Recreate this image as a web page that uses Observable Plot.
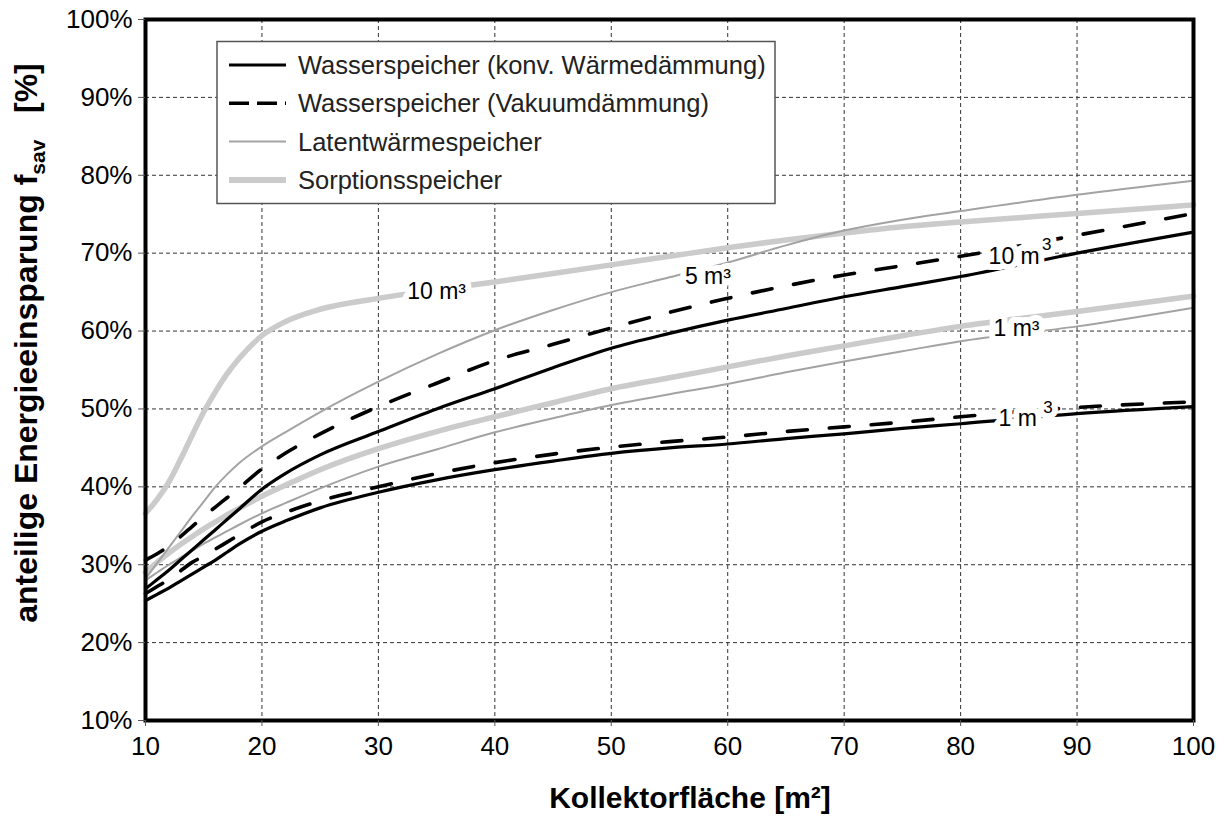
<!DOCTYPE html>
<html><head><meta charset="utf-8">
<script src="https://cdn.jsdelivr.net/npm/d3@7"></script>
<script src="https://cdn.jsdelivr.net/npm/@observablehq/plot@0.6"></script>
<style>body{margin:0;background:#fff;} svg{display:block;}</style>
</head><body><div id="chart"></div>
<script>
// Kollektorfläche [m²]
const area = [10, 11, 12, 13, 14, 15, 16, 17, 18, 20, 22, 25, 30, 35, 40, 45, 50, 55, 60, 65, 70, 75, 80, 90, 100];
// anteilige Energieeinsparung [%]
const wasserKonv10 = [26.9, 28.1, 29.3, 30.6, 31.9, 33.2, 34.5, 35.8, 37.1, 39.7, 41.7, 44.1, 47.1, 50.0, 52.6, 55.3, 57.8, 59.7, 61.4, 62.9, 64.4, 65.7, 67.0, 70.0, 72.7];
const wasserKonv1  = [25.4, 26.2, 27.0, 27.9, 28.8, 29.7, 30.6, 31.6, 32.6, 34.3, 35.6, 37.3, 39.3, 40.9, 42.2, 43.3, 44.3, 45.0, 45.5, 46.2, 46.8, 47.5, 48.1, 49.4, 50.3];
const wasserVak10  = [30.6, 31.4, 32.4, 33.6, 34.9, 36.2, 37.4, 38.6, 39.8, 42.3, 44.3, 46.8, 50.3, 53.3, 56.2, 58.3, 60.4, 62.4, 64.2, 65.8, 67.2, 68.4, 69.6, 72.3, 75.1];
const wasserVak1   = [26.3, 27.2, 28.1, 29.2, 30.3, 31.1, 32.0, 32.9, 33.8, 35.5, 36.7, 38.2, 40.0, 41.7, 43.1, 44.2, 45.1, 45.8, 46.4, 47.1, 47.7, 48.3, 49.0, 50.2, 50.9];
const latent5      = [28.2, 30.2, 32.2, 34.2, 36.2, 38.1, 40.0, 41.6, 43.0, 45.2, 47.0, 49.6, 53.5, 57.0, 60.1, 62.7, 65.0, 66.9, 68.8, 71.0, 72.9, 74.3, 75.4, 77.5, 79.3];
const latent1      = [28.0, 29.0, 30.0, 30.9, 31.8, 32.7, 33.5, 34.3, 35.1, 36.6, 37.9, 39.8, 42.6, 44.8, 47.0, 48.8, 50.5, 51.9, 53.2, 54.7, 56.1, 57.4, 58.7, 60.6, 63.0];
const sorption10   = [36.6, 38.4, 40.6, 43.5, 46.6, 49.6, 52.2, 54.5, 56.4, 59.4, 61.2, 62.8, 64.2, 65.3, 66.3, 67.4, 68.5, 69.6, 70.7, 71.7, 72.6, 73.4, 74.0, 75.1, 76.2];
const sorption1    = [29.0, 30.3, 31.5, 32.6, 33.6, 34.6, 35.5, 36.4, 37.2, 38.8, 40.2, 42.2, 44.9, 47.1, 49.0, 50.8, 52.6, 54.0, 55.4, 56.8, 58.1, 59.4, 60.6, 62.5, 64.5];

const storageTypes = ["Wasserspeicher (konv. Wärmedämmung)", "Wasserspeicher (Vakuumdämmung)", "Latentwärmespeicher", "Sorptionsspeicher"];
const yTicks = [10, 20, 30, 40, 50, 60, 70, 80, 90, 100];
const xTicks = [10, 20, 30, 40, 50, 60, 70, 80, 90, 100];

// curve labels (text, position in data units)
const labelText = ["10 m³", "5 m³", "1 m³", "10 m", "1 m"];
const labelX    = [35.0, 58.3, 84.8, 84.6, 84.9];
const labelY    = [65.0, 67.0, 60.3, 69.6, 48.8];
const supText = ["3", "3"];
const supX    = [87.4, 87.5];
const supY    = [71.1, 50.2];

const styles = [
  {stroke: "#000", strokeWidth: 3.2},
  {stroke: "#000", strokeWidth: 3.6, strokeDasharray: "20,22"},
  {stroke: "#a3a3a3", strokeWidth: 2},
  {stroke: "#cbcbcb", strokeWidth: 5.5}
];

const series = [
  {type: 3, vals: sorption10}, {type: 3, vals: sorption1},
  {type: 2, vals: latent5}, {type: 2, vals: latent1},
  {type: 1, vals: wasserVak10}, {type: 1, vals: wasserVak1},
  {type: 0, vals: wasserKonv10}, {type: 0, vals: wasserKonv1}
];

const lineMarks = series.map(s => Plot.line(area.map((a, i) => ({x: a, y: s.vals[i]})),
  {x: "x", y: "y", curve: "monotone-x", ...styles[s.type]}));

const labels = labelText.map((t, i) => ({t, x: labelX[i], y: labelY[i]}));
const sups = supText.map((t, i) => ({t, x: supX[i], y: supY[i]}));

const chart = Plot.plot({
  width: 1226, height: 816,
  marginLeft: 145, marginRight: 33, marginTop: 19, marginBottom: 96,
  style: {fontFamily: "'Liberation Sans', Arial, sans-serif", fontSize: "26px", color: "#000", background: "#fff"},
  x: {domain: [10, 100], label: null},
  y: {domain: [10, 100], label: null},
  marks: [
    Plot.gridX(xTicks.slice(1, -1), {stroke: "#333", strokeOpacity: 1, strokeDasharray: "4,3", strokeWidth: 1}),
    Plot.gridY(yTicks.slice(1, -1), {stroke: "#333", strokeOpacity: 1, strokeDasharray: "4,3", strokeWidth: 1}),
    ...lineMarks,
    Plot.text(labels, {x: "x", y: "y", text: "t", fontSize: 23, fill: "#000", stroke: "#fff", strokeWidth: 12, paintOrder: "stroke"}),
    Plot.text(sups, {x: "x", y: "y", text: "t", fontSize: 17, fill: "#000", stroke: "#fff", strokeWidth: 12, paintOrder: "stroke"}),
    Plot.frame({stroke: "#000", strokeWidth: 4}),
    Plot.axisY(yTicks, {tickFormat: d => d + "%", tickSize: 7, tickPadding: 6, fontSize: 26, stroke: "#555", label: null}),
    Plot.axisX(xTicks, {tickSize: 6, tickPadding: 10, fontSize: 26, stroke: "#555", label: null})
  ]
});
document.getElementById("chart").appendChild(chart);

const svg = d3.select(chart);
const FONT = "'Liberation Sans', Arial, sans-serif";
// y axis title
const yl = svg.append("text")
  .attr("transform", "translate(37,343) rotate(-90)")
  .attr("text-anchor", "middle")
  .attr("font-family", FONT)
  .attr("font-weight", "bold").attr("font-size", 32).attr("fill", "#000");
yl.append("tspan").text("anteilige Energieeinsparung f");
yl.append("tspan").attr("font-size", 21).attr("dy", 8).text("sav");
yl.append("tspan").attr("dy", -8).text("\u00a0\u00a0\u00a0[%]");
// x axis title
svg.append("text").attr("x", 690).attr("y", 808).attr("text-anchor", "middle")
  .attr("font-family", FONT)
  .attr("font-weight", "bold").attr("font-size", 30).attr("fill", "#000")
  .text("Kollektorfläche [m²]");

// legend
const lg = svg.append("g").attr("font-family", FONT).attr("text-anchor", "start");
lg.append("rect").attr("x", 217).attr("y", 41.5).attr("width", 558).attr("height", 162)
  .attr("fill", "#fff").attr("stroke", "#555").attr("stroke-width", 1.5);
const legendDash = [null, "20,8,20,8,3", null, null];
storageTypes.forEach((name, i) => {
  const y = 65 + i * 38.3;
  const st = styles[i];
  lg.append("line").attr("x1", 229).attr("x2", 286).attr("y1", y).attr("y2", y)
    .attr("stroke", st.stroke).attr("stroke-width", i === 3 ? 6 : st.strokeWidth)
    .attr("stroke-dasharray", legendDash[i]);
  lg.append("text").attr("x", 298).attr("y", y).attr("dy", "0.36em")
    .attr("text-anchor", "start")
    .attr("font-size", 25.5).attr("fill", "#222").text(name);
});
</script>
</body></html>
